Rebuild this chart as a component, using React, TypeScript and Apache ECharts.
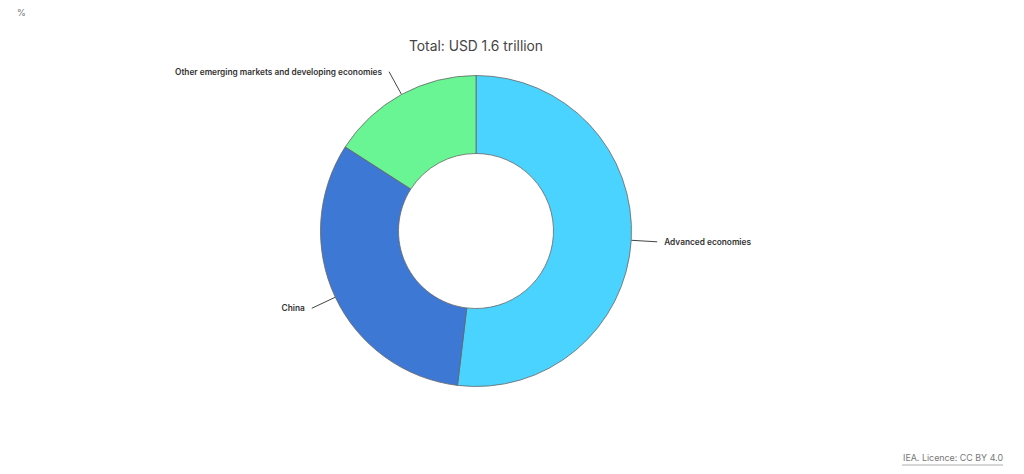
import React, { useEffect, useRef } from "react";
import * as echarts from "echarts";

const categories = ["Advanced economies", "China", "Other emerging markets and developing economies"];
const shares = [51.9, 32.2, 15.9];
const colors = ["#4AD3FF", "#3D79D4", "#69F594"];
const title = "Total: USD 1.6 trillion";
const unitLabel = "%";
const sourceLabel = "IEA. Licence: CC BY 4.0";

const FONT = "Inter, 'Noto Sans', sans-serif";

export default function App() {
  const ref = useRef<HTMLDivElement>(null);
  useEffect(() => {
    if (!ref.current) return;
    const chart = echarts.init(ref.current, undefined, { renderer: "svg" });
    chart.setOption({
      animation: false,
      backgroundColor: "#ffffff",
      graphic: [
        {
          type: "text",
          x: 476,
          y: 46,
          style: {
            text: title,
            fontFamily: FONT,
            fontSize: 13.8,
            fill: "#444",
            align: "center",
            verticalAlign: "middle",
          },
        },
        {
          type: "text",
          left: 17,
          top: 8,
          style: { text: unitLabel, fontFamily: FONT, fontSize: 9, fill: "#777" },
        },
        {
          type: "text",
          right: 21,
          top: 453,
          style: { text: sourceLabel, fontFamily: FONT, fontSize: 8.9, fill: "#777" },
        },
        {
          type: "line",
          shape: { x1: 902, y1: 465, x2: 1003, y2: 465 },
          style: { stroke: "#999", lineWidth: 0.8 },
        },
      ],
      series: [
        {
          type: "pie",
          center: [476, 231],
          radius: [77.5, 155.5],
          startAngle: 90,
          clockwise: true,
          avoidLabelOverlap: false,
          itemStyle: { borderColor: "#666", borderWidth: 0.8 },
          label: {
            show: true,
            position: "outside",
            formatter: "{b}",
            fontFamily: FONT,
            fontSize: 8.3,
            fontWeight: 600,
            color: "#333",
            distanceToLabelLine: 7,
          },
          labelLine: {
            show: true,
            length: 26,
            length2: 0,
            smooth: false,
            lineStyle: { color: "#444", width: 1 },
          },
          emphasis: { disabled: true },
          data: categories.map((name, i) => ({
            name,
            value: shares[i],
            itemStyle: { color: colors[i] },
          })),
        },
      ],
    });
    return () => chart.dispose();
  }, []);
  return (
    <div
      ref={ref}
      style={{ position: "fixed", left: 0, top: 0, width: 1024, height: 474 }}
    />
  );
}
